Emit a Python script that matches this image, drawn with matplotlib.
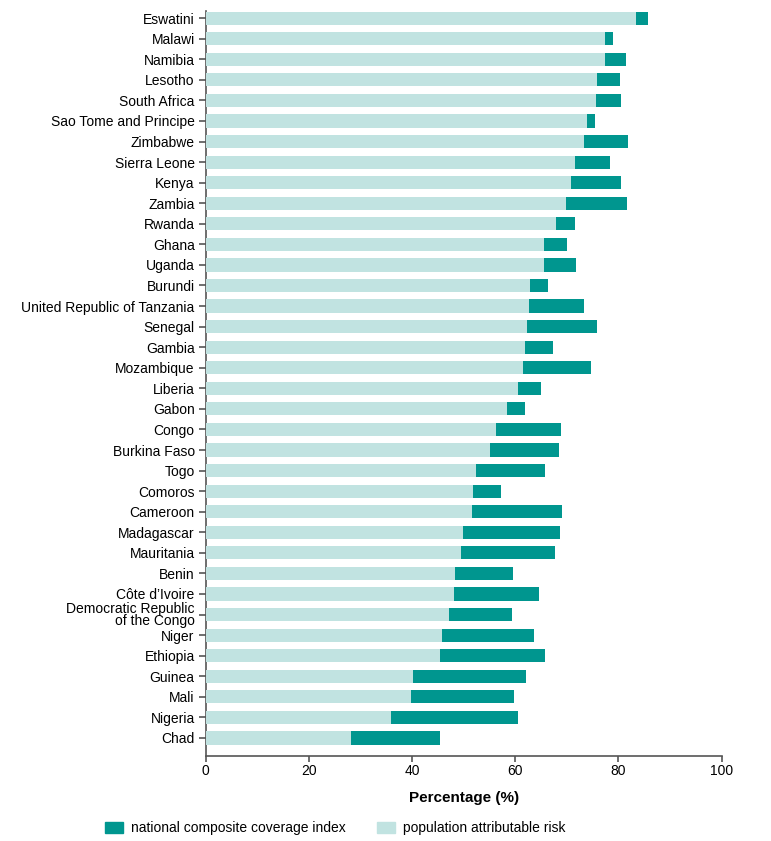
import numpy as np
import matplotlib
matplotlib.use('Agg')
import matplotlib.pyplot as plt
from matplotlib.patches import Patch

plt.rcParams['font.family'] = ['Liberation Sans Narrow', 'Liberation Sans', 'DejaVu Sans']

# 数据：从上到下
countries = ['Eswatini', 'Malawi', 'Namibia', 'Lesotho', 'South Africa',
             'Sao Tome and Principe', 'Zimbabwe', 'Sierra Leone', 'Kenya', 'Zambia',
             'Rwanda', 'Ghana', 'Uganda', 'Burundi', 'United Republic of Tanzania',
             'Senegal', 'Gambia', 'Mozambique', 'Liberia', 'Gabon', 'Congo',
             'Burkina Faso', 'Togo', 'Comoros', 'Cameroon', 'Madagascar', 'Mauritania',
             'Benin', 'C\u00f4te d\u2019Ivoire', 'Democratic Republic\nof the Congo',
             'Niger', 'Ethiopia', 'Guinea', 'Mali', 'Nigeria', 'Chad']

par = [83.4, 77.3, 77.3, 75.8, 75.6, 73.9, 73.3, 71.6, 70.7, 69.9,
       67.9, 65.5, 65.5, 62.9, 62.7, 62.2, 61.9, 61.5, 60.6, 58.4,
       56.3, 55.0, 52.4, 51.8, 51.6, 49.8, 49.4, 48.3, 48.2, 47.1,
       45.8, 45.3, 40.1, 39.7, 35.9, 28.1]

cci = [85.7, 79.0, 81.5, 80.2, 80.4, 75.4, 81.9, 78.4, 80.5, 81.7,
       71.6, 70.1, 71.8, 66.3, 73.3, 75.9, 67.3, 74.7, 64.9, 61.8,
       68.8, 68.5, 65.8, 57.2, 69.1, 68.6, 67.6, 59.5, 64.5, 59.4,
       63.7, 65.7, 62.0, 59.8, 60.6, 45.4]

dark = '#00968f'
light = '#c1e3e1'
axcol = '#555555'

fig = plt.figure(figsize=(7.71, 8.41), dpi=100)
ax = fig.add_axes([0.267, 0.101, 0.669, 0.886])

y = np.arange(len(countries))[::-1]
ax.barh(y, cci, height=0.64, color=dark, zorder=2)
ax.barh(y, par, height=0.64, color=light, zorder=3)

ax.set_yticks(y)
ax.set_yticklabels(countries, fontsize=10, linespacing=0.85)
ax.set_ylim(-0.88, 35.35)
ax.set_xlim(0, 100)
ax.set_xticks(np.arange(0, 101, 20))
ax.tick_params(axis='x', labelsize=10, length=4, pad=2, color=axcol, width=1.2)
ax.tick_params(axis='y', length=5, pad=3, color=axcol, width=1.2)
ax.set_xlabel('Percentage (%)', fontsize=11, fontweight='bold', labelpad=9)

for s in ['top', 'right']:
    ax.spines[s].set_visible(False)
for s in ['left', 'bottom']:
    ax.spines[s].set_color(axcol)
    ax.spines[s].set_linewidth(1.2)

handles = [Patch(color=dark, label='national composite coverage index'),
           Patch(color=light, label='population attributable risk')]
fig.legend(handles=handles, loc='lower left', bbox_to_anchor=(0.12, -0.008), ncol=2,
           frameon=False, fontsize=10, handlelength=1.3, handleheight=0.9,
           columnspacing=2.2, handletextpad=0.6)

fig.savefig('out.png', dpi=100)
